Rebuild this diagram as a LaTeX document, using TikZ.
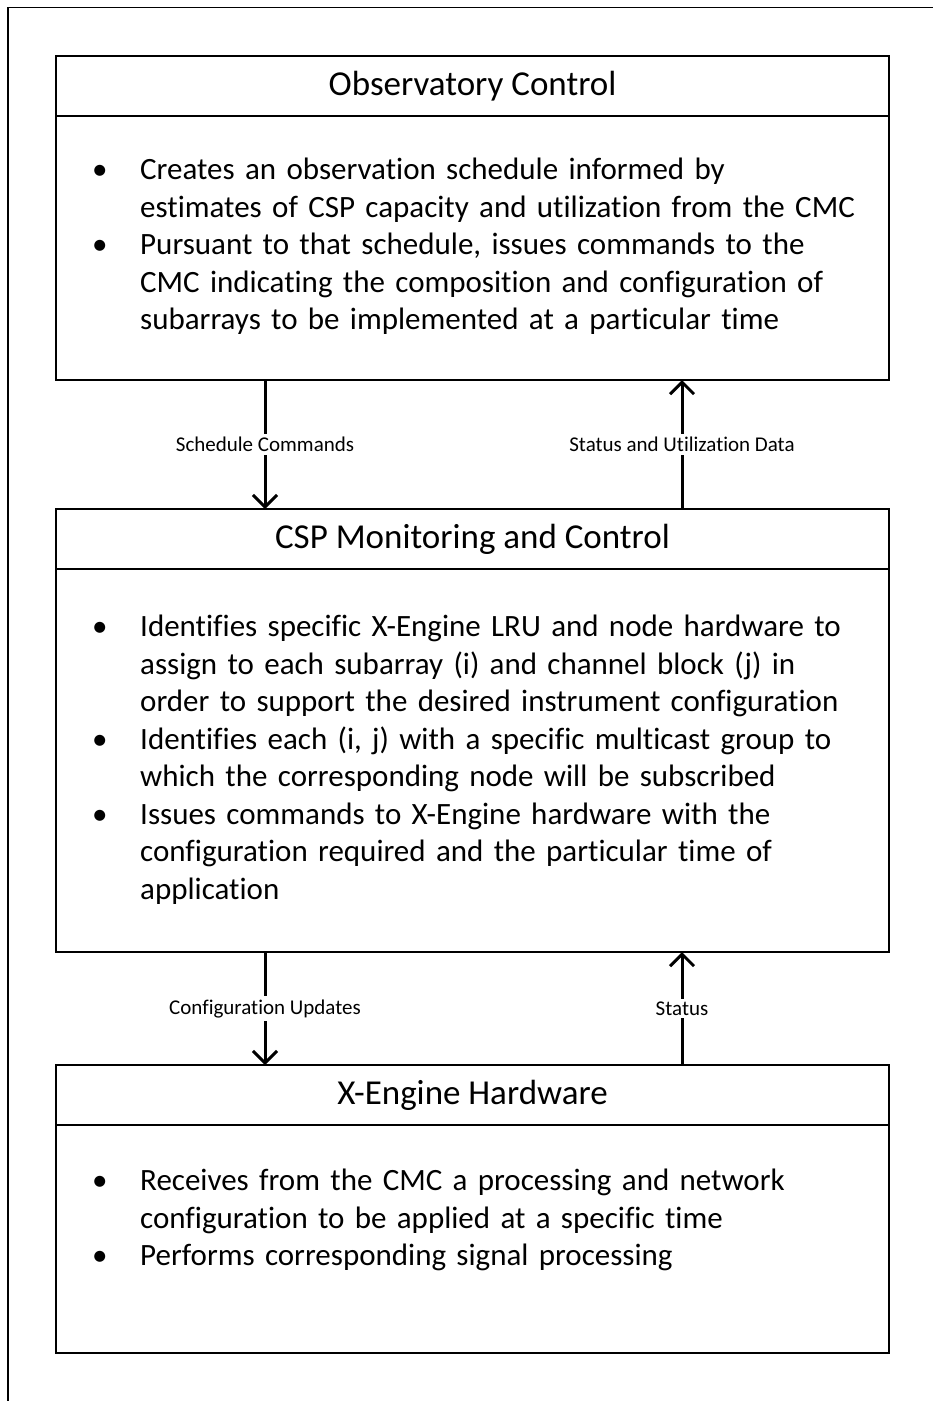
\documentclass[tikz,border=0pt]{standalone}
\usepackage{fontspec}
\setmainfont{Carlito}[Ligatures=NoCommon]
\usetikzlibrary{arrows.meta,positioning}
\definecolor{nero}{HTML}{000000}

\newenvironment{punti}{%
  \begin{list}{\textbullet}{%
    \setlength\leftmargin{48pt}\setlength\labelwidth{48pt}%
    \setlength\labelsep{0pt}\setlength\topsep{0pt}%
    \setlength\partopsep{0pt}\setlength\itemsep{0pt}%
    \setlength\parsep{0pt}%
    \renewcommand\makelabel[1]{##1\hfil}}}%
  {\end{list}}

\tikzset{
  testata/.style={draw=nero, line width=2pt, minimum width=833pt, minimum height=60pt,
    inner sep=0pt, outer sep=0pt, font=\fontsize{35}{40}\selectfont},
  corpo/.style={draw=nero, line width=2pt, minimum width=833pt, inner sep=0pt, outer sep=0pt,
    anchor=north},
  testo/.style={anchor=north west, inner sep=0pt, text width=790pt, align=left,
    font=\fontsize{31}{37.5}\selectfont},
  freccia/.style={draw=nero, line width=3pt, -{Straight Barb[length=12pt,width=24pt]}},
  etichetta/.style={fill=white, inner xsep=1pt, inner ysep=3pt, font=\fontsize{21}{24}\selectfont},
}

\begin{document}
\begin{tikzpicture}[x=1pt, y=-1pt]
    \useasboundingbox (0,0) rectangle (933,1401);
    % cornice
    \draw[nero, line width=1.2pt] (8,1401) -- (8,7.5) -- (933,7.5);

    % Observatory Control
    \node[testata] (obsHead) at (472.5,86) {Observatory Control};
    \node[corpo, minimum height=264pt] (obsBody) at (obsHead.south) {};
    \node[testo] (obsText) at ([shift={(36,26)}]obsBody.north west) {%
      \begin{punti}
        \item Creates an observation schedule informed by\\
              estimates of CSP capacity and utilization from the CMC
        \item Pursuant to that schedule, issues commands to the\\
              CMC indicating the composition and configuration of\\
              subarrays to be implemented at a particular time
      \end{punti}};

    % CSP Monitoring and Control
    \node[testata] (cmcHead) at (472.5,539) {CSP Monitoring and Control};
    \node[corpo, minimum height=383pt] (cmcBody) at (cmcHead.south) {};
    \node[testo] (cmcText) at ([shift={(36,30)}]cmcBody.north west) {%
      \begin{punti}
        \item Identifies specific X-Engine LRU and node hardware to\\
              assign to each subarray (i) and channel block (j) in\\
              order to support the desired instrument configuration
        \item Identifies each (i, j) with a specific multicast group to\\
              which the corresponding node will be subscribed
        \item Issues commands to X-Engine hardware with the\\
              configuration required and the particular time of\\
              application
      \end{punti}};

    % X-Engine Hardware
    \node[testata] (xengHead) at (472.5,1095) {X-Engine Hardware};
    \node[corpo, minimum height=228pt] (xengBody) at (xengHead.south) {};
    \node[testo] (xengText) at ([shift={(36,28)}]xengBody.north west) {%
      \begin{punti}
        \item Receives from the CMC a processing and network\\
              configuration to be applied at a specific time
        \item Performs corresponding signal processing
      \end{punti}};

    % frecce
    \draw[freccia] ([xshift=209pt]obsBody.south west) -- ([xshift=209pt]cmcHead.north west)
        node[midway, etichetta] {Schedule Commands};
    \draw[freccia] ([xshift=626pt]cmcHead.north west) -- ([xshift=626pt]obsBody.south west)
        node[midway, etichetta] {Status and Utilization Data};
    \draw[freccia] ([xshift=209pt]cmcBody.south west) -- ([xshift=209pt]xengHead.north west)
        node[midway, etichetta] {Configuration Updates};
    \draw[freccia] ([xshift=626pt]xengHead.north west) -- ([xshift=626pt]cmcBody.south west)
        node[midway, etichetta] {Status};
\end{tikzpicture}
\end{document}
